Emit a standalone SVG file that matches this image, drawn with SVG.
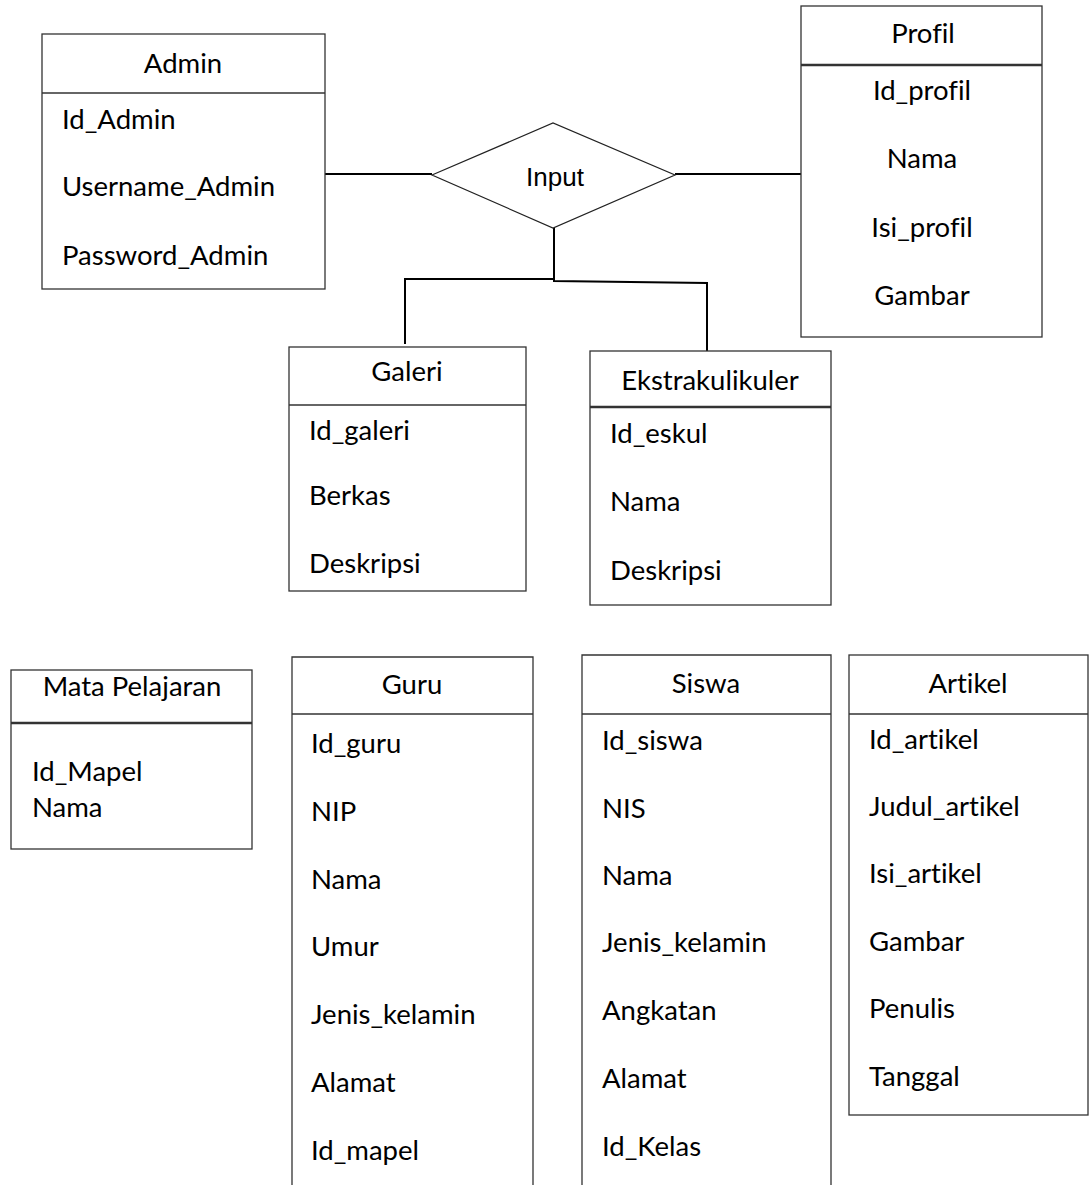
<svg xmlns="http://www.w3.org/2000/svg" width="1091" height="1185" viewBox="0 0 1091 1185">
<style>
.box{fill:#fff;stroke:#333;stroke-width:1.3}
.div{stroke:#333;stroke-width:1.3}
.dbl{stroke:#333;stroke-width:2.6}
.t{font-family:Lato,"Noto Sans",sans-serif;font-size:27.5px;fill:#000;font-variant-ligatures:none}
.c{text-anchor:middle}
.conn{fill:none;stroke:#000;stroke-width:2}
.rel{fill:#fff;stroke:#222;stroke-width:1.2}
.rt{font-family:"Liberation Sans",Arial,sans-serif;font-size:26px;fill:#000;text-anchor:middle}
</style>
<rect width="1091" height="1185" fill="#fff"/>
<g id="connectors">
<line class="conn" x1="325" y1="174" x2="432" y2="174"/>
<line class="conn" x1="675" y1="174" x2="801" y2="174"/>
<polyline class="conn" points="554,228 554,279 405,279 405,344"/>
<polyline class="conn" points="554,279 554,281 707,283 707,351"/>
</g>
<g id="admin">
<rect class="box" x="42" y="34" width="283" height="255"/>
<line class="div" x1="42" y1="93" x2="325" y2="93"/>
<text class="t c" x="183" y="73">Admin</text>
<text class="t" x="62" y="129">Id_Admin</text>
<text class="t" x="62" y="196">Username_Admin</text>
<text class="t" x="62" y="265">Password_Admin</text>
</g>
<g id="input">
<polygon class="rel" points="432,175 553,123 675,175 553,228"/>
<text class="rt" x="555" y="186">Input</text>
</g>
<g id="profil">
<rect class="box" x="801" y="6" width="241" height="331"/>
<line class="dbl" x1="801" y1="65" x2="1042" y2="65"/>
<text class="t c" x="923" y="43">Profil</text>
<text class="t c" x="922" y="100">Id_profil</text>
<text class="t c" x="922" y="168">Nama</text>
<text class="t c" x="922" y="237">Isi_profil</text>
<text class="t c" x="922" y="305">Gambar</text>
</g>
<g id="galeri">
<rect class="box" x="289" y="347" width="237" height="244"/>
<line class="div" x1="289" y1="405" x2="526" y2="405"/>
<text class="t c" x="407" y="381">Galeri</text>
<text class="t" x="309" y="440">Id_galeri</text>
<text class="t" x="309" y="505">Berkas</text>
<text class="t" x="309" y="573">Deskripsi</text>
</g>
<g id="ekstrakulikuler">
<rect class="box" x="590" y="351" width="241" height="254"/>
<line class="dbl" x1="590" y1="407" x2="831" y2="407"/>
<text class="t c" x="710" y="390">Ekstrakulikuler</text>
<text class="t" x="610" y="443">Id_eskul</text>
<text class="t" x="610" y="511">Nama</text>
<text class="t" x="610" y="580">Deskripsi</text>
</g>
<g id="mata-pelajaran">
<rect class="box" x="11" y="670" width="241" height="179"/>
<line class="dbl" x1="11" y1="723" x2="252" y2="723"/>
<text class="t c" x="132" y="696">Mata Pelajaran</text>
<text class="t" x="32" y="781">Id_Mapel</text>
<text class="t" x="32" y="817">Nama</text>
</g>
<g id="guru">
<polyline class="box" points="292,1190 292,657 533,657 533,1190"/>
<line class="div" x1="292" y1="714" x2="533" y2="714"/>
<text class="t c" x="412" y="694">Guru</text>
<text class="t" x="311" y="753">Id_guru</text>
<text class="t" x="311" y="821">NIP</text>
<text class="t" x="311" y="889">Nama</text>
<text class="t" x="311" y="956">Umur</text>
<text class="t" x="311" y="1024">Jenis_kelamin</text>
<text class="t" x="311" y="1092">Alamat</text>
<text class="t" x="311" y="1160">Id_mapel</text>
</g>
<g id="siswa">
<polyline class="box" points="582,1190 582,655 831,655 831,1190"/>
<line class="div" x1="582" y1="714" x2="831" y2="714"/>
<text class="t c" x="706" y="693">Siswa</text>
<text class="t" x="602" y="750">Id_siswa</text>
<text class="t" x="602" y="818">NIS</text>
<text class="t" x="602" y="885">Nama</text>
<text class="t" x="602" y="952">Jenis_kelamin</text>
<text class="t" x="602" y="1020">Angkatan</text>
<text class="t" x="602" y="1088">Alamat</text>
<text class="t" x="602" y="1156">Id_Kelas</text>
</g>
<g id="artikel">
<rect class="box" x="849" y="655" width="239" height="460"/>
<line class="div" x1="849" y1="714" x2="1088" y2="714"/>
<text class="t c" x="968" y="693">Artikel</text>
<text class="t" x="869" y="749">Id_artikel</text>
<text class="t" x="869" y="816">Judul_artikel</text>
<text class="t" x="869" y="883">Isi_artikel</text>
<text class="t" x="869" y="951">Gambar</text>
<text class="t" x="869" y="1018">Penulis</text>
<text class="t" x="869" y="1086">Tanggal</text>
</g>
</svg>
